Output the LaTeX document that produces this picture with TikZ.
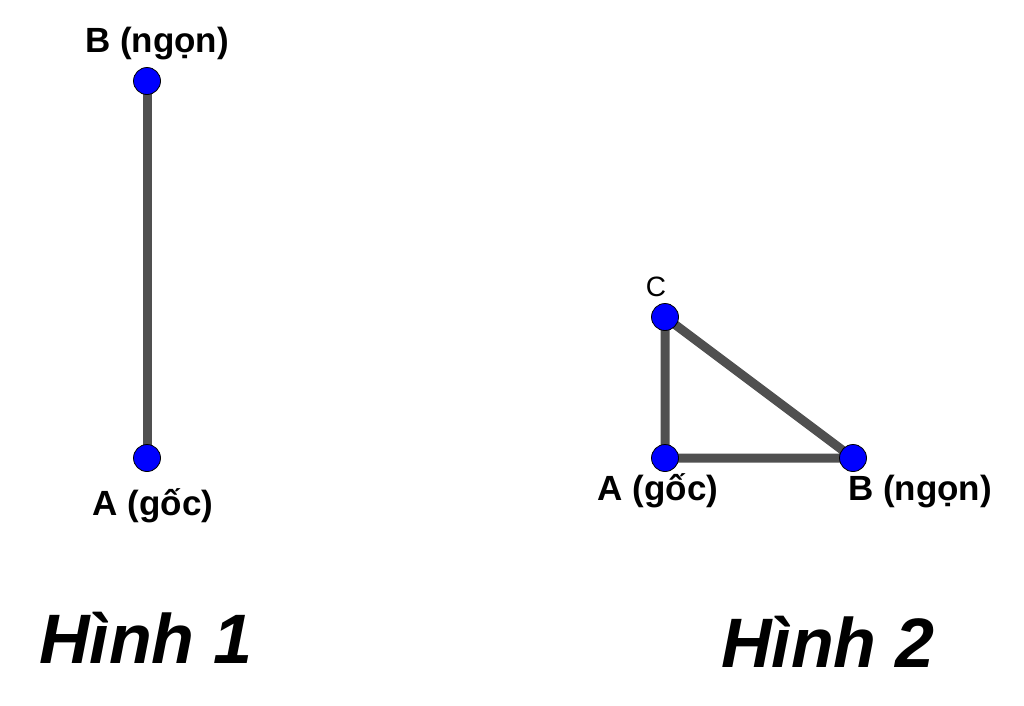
\documentclass[tikz,border=0pt]{standalone}
\usepackage{fontspec}
\setmainfont{Liberation Sans}
\definecolor{segcol}{HTML}{505050}
\definecolor{ptcol}{HTML}{0000FF}
\begin{document}
\begin{tikzpicture}[x=1pt,y=-1pt,
  seg/.style={draw=segcol,line width=9pt},
  pt/.style={circle,fill=ptcol,draw=black,line width=0.8pt,minimum size=27pt,inner sep=0pt},
  lbl/.style={font=\fontsize{35}{40}\selectfont\bfseries,anchor=base,inner sep=0pt},
  clbl/.style={font=\fontsize{28}{32}\selectfont,anchor=base,inner sep=0pt},
  title/.style={font=\fontsize{70}{80}\selectfont\bfseries\itshape,anchor=base,inner sep=0pt}]
\useasboundingbox[fill=white] (0,0) rectangle (1024,705);
% Figure 1
\coordinate (B1) at (147,81);
\coordinate (A1) at (147,458);
\draw[seg] (A1) -- (B1);
\node[pt] (pB1) at (B1) {};
\node[pt] (pA1) at (A1) {};
\node[lbl] (lB1) at (157,52) {B (ngọn)};
\node[lbl] (lA1) at (153,515) {A (gốc)};
\node[title] (t1) at (146,663) {Hình 1};
% Figure 2
\coordinate (C2) at (665,317);
\coordinate (A2) at (665,458);
\coordinate (B2) at (853,458);
\draw[seg,line join=round] (A2) -- (C2) -- (B2) -- cycle;
\node[pt] (pC2) at (C2) {};
\node[pt] (pA2) at (A2) {};
\node[pt] (pB2) at (B2) {};
\node[clbl] (lC2) at (656,296) {C};
\node[lbl] (lA2) at (658,500) {A (gốc)};
\node[lbl] (lB2) at (920,500) {B (ngọn)};
\node[title] (t2) at (828,667) {Hình 2};
\end{tikzpicture}
\end{document}
